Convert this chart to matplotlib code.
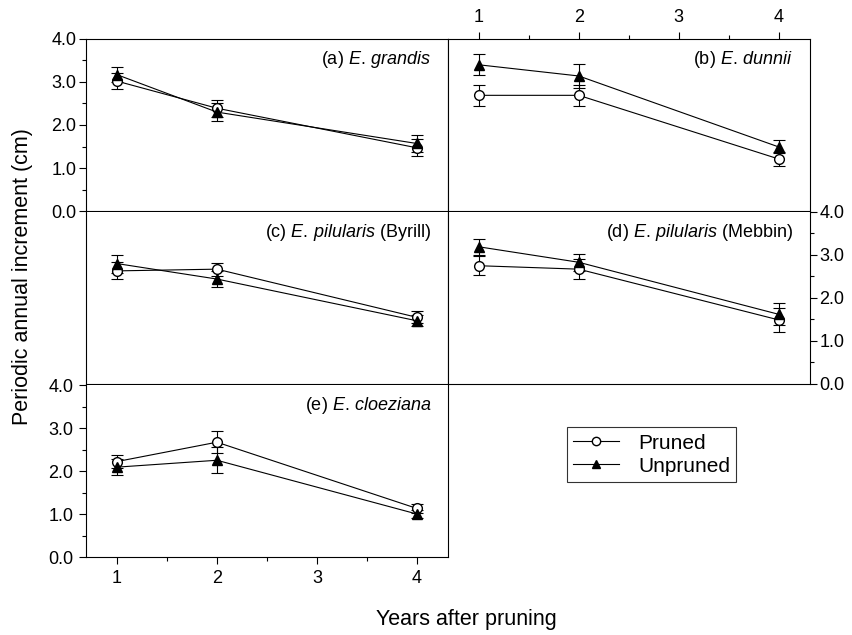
import matplotlib.pyplot as plt
from matplotlib.lines import Line2D

plt.rcParams["font.family"] = ["Liberation Sans", "DejaVu Sans"]
plt.rcParams["mathtext.fontset"] = "custom"
plt.rcParams["mathtext.rm"] = "Liberation Sans"
plt.rcParams["mathtext.it"] = "Liberation Sans:italic"

years = [1, 2, 4]

labels = [
    r"(a) $\mathit{E.\,grandis}$",
    r"(b) $\mathit{E.\,dunnii}$",
    r"(c) $\mathit{E.\,pilularis}$ (Byrill)",
    r"(d) $\mathit{E.\,pilularis}$ (Mebbin)",
    r"(e) $\mathit{E.\,cloeziana}$",
]

pruned = [
    [3.02, 2.39, 1.47],
    [2.69, 2.69, 1.21],
    [2.63, 2.67, 1.55],
    [2.75, 2.67, 1.49],
    [2.22, 2.67, 1.13],
]
pruned_err = [
    [0.18, 0.20, 0.20],
    [0.25, 0.25, 0.17],
    [0.20, 0.15, 0.14],
    [0.22, 0.23, 0.27],
    [0.16, 0.25, 0.10],
]
unpruned = [
    [3.17, 2.30, 1.57],
    [3.40, 3.14, 1.49],
    [2.80, 2.44, 1.47],
    [3.19, 2.83, 1.62],
    [2.09, 2.25, 1.00],
]
unpruned_err = [
    [0.17, 0.20, 0.20],
    [0.24, 0.27, 0.15],
    [0.21, 0.18, 0.13],
    [0.19, 0.20, 0.26],
    [0.19, 0.30, 0.10],
]

fig = plt.figure(figsize=(8.53, 6.35), dpi=100)

x0, xm, x1 = 0.1008, 0.525, 0.948
rows = [0.6677, 0.3953, 0.1228]
h = 0.2709
positions = [
    (x0, rows[0]), (xm, rows[0]),
    (x0, rows[1]), (xm, rows[1]),
    (x0, rows[2]),
]

axes = []
for i, (left, bottom) in enumerate(positions):
    ax = fig.add_axes([left, bottom, xm - x0, h])
    ax.errorbar(years, pruned[i], yerr=pruned_err[i], fmt="-o", color="black",
                mfc="white", mec="black", ms=7, lw=0.8, elinewidth=0.8,
                capsize=4, capthick=0.8)
    ax.errorbar(years, unpruned[i], yerr=unpruned_err[i], fmt="-^", color="black",
                mfc="black", mec="black", ms=7, lw=0.8, elinewidth=0.8,
                capsize=4, capthick=0.8)
    ax.set_xlim(0.69, 4.31)
    ax.set_ylim(0, 4)
    ax.text(0.955, 0.878, labels[i], transform=ax.transAxes, ha="right",
            va="center", fontsize=13)
    ax.set_xticks([1, 2, 3, 4])
    ax.set_xticks([1.5, 2.5, 3.5], minor=True)
    ax.set_yticks([0, 1, 2, 3, 4])
    ax.set_yticks([0.5, 1.5, 2.5, 3.5], minor=True)
    ax.set_yticklabels(["0.0", "1.0", "2.0", "3.0", "4.0"])
    ax.tick_params(which="both", direction="out", labelsize=13, pad=2,
                   bottom=False, top=False, left=False, right=False,
                   labelbottom=False, labeltop=False, labelleft=False,
                   labelright=False)
    ax.tick_params(which="major", length=5, width=0.8)
    ax.tick_params(which="minor", length=3, width=0.8)
    for s in ax.spines.values():
        s.set_linewidth(0.8)
    axes.append(ax)

# avoid doubled borders where panels touch
for ax in axes[2:]:
    ax.spines["top"].set_visible(False)

axes[0].tick_params(which="both", left=True, labelleft=True)
axes[4].tick_params(which="both", left=True, labelleft=True)
axes[1].tick_params(which="both", top=True, labeltop=True, pad=4)
axes[3].tick_params(which="both", right=True, labelright=True)
axes[4].tick_params(which="both", bottom=True, labelbottom=True, pad=4)

fig.text(0.026, 0.565, "Periodic annual increment (cm)", rotation=90,
         ha="center", va="center", fontsize=15.5)
fig.text(0.547, 0.024, "Years after pruning", ha="center", va="center",
         fontsize=15.5)

handles = [
    Line2D([], [], color="black", lw=0.8, marker="o", mfc="white",
           mec="black", ms=6),
    Line2D([], [], color="black", lw=0.8, marker="^", mfc="black",
           mec="black", ms=6),
]
leg = fig.legend(handles, ["Pruned", "Unpruned"], loc="center",
                 bbox_to_anchor=(0.764, 0.284), fontsize=15, frameon=True,
                 fancybox=False, edgecolor="black", handlelength=2.2,
                 borderpad=0.3, labelspacing=0.2, handletextpad=0.9,
                 borderaxespad=0)
leg.get_frame().set_linewidth(0.8)

fig.savefig("out.png", dpi=100)
